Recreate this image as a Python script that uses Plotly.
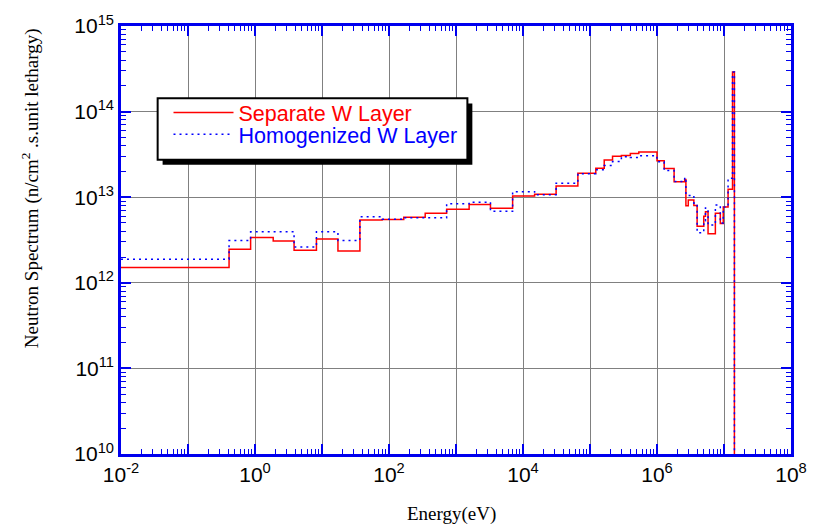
import plotly.graph_objects as go

# Energy group boundaries (eV)
energy_edges = [1e-2, 0.41, 0.86, 1.87, 3.83, 8.26, 17.3, 36.8, 78.9, 166, 347, 725,
                1570, 3270, 7000, 14900, 31200, 65900, 1.22e5, 1.63e5, 2.17e5, 2.94e5,
                4.0e5, 5.35e5, 1.0e6, 1.28e6, 1.8e6, 2.59e6, 2.7e6, 2.93e6, 3.55e6,
                3.97e6, 4.99e6, 5.29e6, 5.78e6, 7.43e6, 8.81e6, 9.75e6, 1.15e7, 1.34e7, 1.43e7]

separate_w = [1.51e12, 2.46e12, 3.39e12, 3.08e12, 2.40e12, 3.25e12, 2.36e12, 5.42e12, 5.49e12, 5.83e12,
              6.49e12, 7.21e12, 8.24e12, 7.41e12, 1.035e13, 1.08e13, 1.35e13, 1.91e13, 2.18e13, 2.72e13,
              3.0e13, 3.08e13, 3.25e13, 3.37e13, 2.66e13, 2.16e13, 1.52e13, 1.61e13, 7.94e12, 9.3e12,
              8.02e12, 4.59e12, 5.98e12, 6.76e12, 3.74e12, 6.49e12, 4.92e12, 7.67e12, 1.24e13, 2.9e14]

homogenized_w = [1.89e12, 3.12e12, 3.94e12, 3.95e12, 2.62e12, 3.94e12, 3.12e12, 5.93e12, 5.52e12, 5.77e12,
                 5.75e12, 8.37e12, 8.75e12, 6.84e12, 1.16e13, 1.07e13, 1.46e13, 1.88e13, 2.09e13, 2.34e13,
                 2.61e13, 2.97e13, 2.9e13, 3.05e13, 2.6e13, 2.05e13, 1.53e13, 1.7e13, 1.05e13, 1.05e13,
                 8.5e12, 3.84e12, 5.3e12, 7.5e12, 4.75e12, 8.1e12, 5.0e12, 7.7e12, 1.66e13, 2.9e14]

floor_value = 1e5  # spectrum falls to zero above the 14 MeV peak

x_decades = list(range(-2, 9))
y_decades = list(range(10, 16))

AX_BLUE = "#0000ee"


def steps(values):
    return energy_edges, values + [floor_value]


fig = go.Figure()
xs, ys = steps(separate_w)
fig.add_trace(go.Scatter(x=xs, y=ys, mode="lines", line_shape="hv",
                         line=dict(color="#ff0000", width=1.5),
                         name="Separate W Layer", legend="legend"))
xs, ys = steps(homogenized_w)
fig.add_trace(go.Scatter(x=xs, y=ys, mode="lines", line_shape="hv",
                         line=dict(color="#0000ff", width=1.5, dash="2px,4px"),
                         name="Homogenized W Layer", legend="legend2"))

x_minor = [m * 10.0 ** k for k in range(-2, 8) for m in range(2, 10)]
y_minor = [m * 10.0 ** k for k in range(10, 15) for m in range(2, 10)]

tickfont = dict(family="Liberation Sans, Arial", size=21, color="black")

fig.update_xaxes(type="log", range=[-2, 8],
                 tickmode="array", tickvals=[10.0 ** d for d in x_decades],
                 ticktext=[("10<sup>%d</sup>" % d) if d % 2 == 0 else "" for d in x_decades],
                 ticks="inside", ticklen=10, tickwidth=1.5, tickcolor=AX_BLUE,
                 minor=dict(tickmode="array", tickvals=x_minor, ticks="inside", ticklen=5,
                            tickwidth=1, tickcolor=AX_BLUE, showgrid=False),
                 showgrid=True, gridcolor="#808080", gridwidth=1,
                 showline=True, linecolor=AX_BLUE, linewidth=2.5, mirror="allticks",
                 tickfont=tickfont, zeroline=False)
fig.update_yaxes(type="log", range=[10, 15],
                 tickmode="array", tickvals=[10.0 ** d for d in y_decades],
                 ticktext=["10<sup>%d</sup>" % d for d in y_decades],
                 ticks="inside", ticklen=10, tickwidth=1.5, tickcolor=AX_BLUE,
                 minor=dict(tickmode="array", tickvals=y_minor, ticks="inside", ticklen=5,
                            tickwidth=1, tickcolor=AX_BLUE, showgrid=False),
                 showgrid=True, gridcolor="#808080", gridwidth=1,
                 showline=True, linecolor=AX_BLUE, linewidth=2.5, mirror="allticks",
                 tickfont=tickfont, zeroline=False)

titlefont = dict(family="Liberation Serif, Times New Roman", size=19, color="black")
fig.add_annotation(text="Energy(eV)", xref="paper", yref="paper", x=0.494, y=-0.141,
                   showarrow=False, font=titlefont, xanchor="center", yanchor="middle")
fig.add_annotation(text="Neutron Spectrum (n/cm<sup>2</sup> .s.unit lethargy)",
                   xref="paper", yref="paper", x=-0.135, y=0.62, textangle=-90,
                   showarrow=False, font=titlefont, xanchor="center", yanchor="middle")

# legend frame with drop shadow
fig.add_shape(type="rect", xref="paper", yref="paper", x0=0.0621, x1=0.5244, y0=0.676, y1=0.819,
              fillcolor="black", line=dict(width=0), layer="above")
fig.add_shape(type="rect", xref="paper", yref="paper", x0=0.0547, x1=0.517, y0=0.6875, y1=0.831,
              fillcolor="white", line=dict(color="black", width=2), layer="above")

legend_common = dict(xanchor="left", yanchor="middle", bgcolor="rgba(0,0,0,0)",
                     borderwidth=0, itemwidth=60)
fig.update_layout(
    width=819, height=526,
    margin=dict(l=121, r=21, t=22, b=72),
    plot_bgcolor="white", paper_bgcolor="white",
    showlegend=True,
    legend=dict(x=0.0709, y=0.798,
                font=dict(family="Liberation Sans, Arial", size=21.5, color="#ff0000"),
                **legend_common),
    legend2=dict(x=0.0709, y=0.747,
                 font=dict(family="Liberation Sans, Arial", size=21.5, color="#0000ff"),
                 **legend_common),
)

fig.write_html("out.html")
